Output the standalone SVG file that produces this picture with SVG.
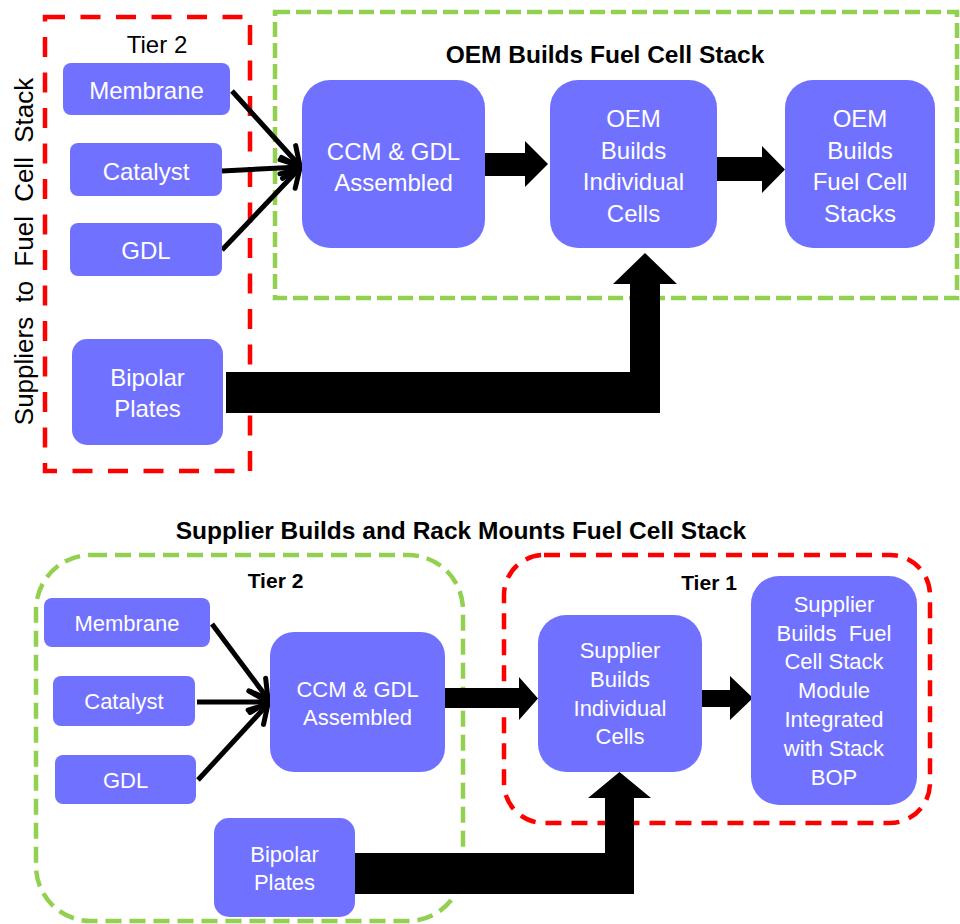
<svg xmlns="http://www.w3.org/2000/svg" width="960" height="924" viewBox="0 0 960 924">
  <defs>
    <style>
      .box { fill: #7171FF; }
      .lbl { font-family: "Liberation Sans", Arial, sans-serif; fill: #FFFFFF; text-anchor: middle; }
      .big { font-size: 24px; }
      .sm { font-size: 22px; }
      .title { font-family: "Liberation Sans", Arial, sans-serif; font-weight: bold; font-size: 24.5px; fill: #000000; text-anchor: middle; }
      .tier { font-family: "Liberation Sans", Arial, sans-serif; fill: #000000; text-anchor: middle; }
      .red { fill: none; stroke: #FF0000; stroke-width: 4.5; }
      .green { fill: none; stroke: #92D050; stroke-width: 4.5; }
      .thin { fill: none; stroke: #000000; stroke-width: 5; marker-end: url(#open); }
      .block { fill: #000000; }
    </style>
    <marker id="open" markerUnits="userSpaceOnUse" markerWidth="26" markerHeight="26" refX="21" refY="13" orient="auto" overflow="visible">
      <path d="M3,2.5 L21,13 L3,23.5" fill="none" stroke="#000000" stroke-width="5" stroke-linecap="round" stroke-linejoin="miter"/>
    </marker>
  </defs>

  <!-- Upper scenario: OEM builds the stack -->
  <g id="oem-frame">
    <rect class="green" x="275" y="12" width="682" height="286" stroke-dasharray="15 6"/>
    <text class="title" x="605" y="63">OEM Builds Fuel Cell Stack</text>
  </g>
  <g id="suppliers-frame">
    <rect class="red" x="45" y="17" width="205" height="454" stroke-dasharray="20 15.5"/>
    <text class="tier" x="157" y="53" font-size="24">Tier 2</text>
    <text class="tier" transform="translate(33,251.5) rotate(-90)" x="0" y="0" font-size="26" word-spacing="7">Suppliers to Fuel Cell Stack</text>
  </g>

  <g id="connectors-top">
    <path class="thin" d="M232,91 L300,166"/>
    <path class="thin" d="M222,171 L300,167"/>
    <path class="thin" d="M222,250 L300,168"/>
    <polygon class="block" points="485,153 525,153 525,141 548,164 525,187 525,176 485,176"/>
    <polygon class="block" points="717,157 762,157 762,146 785,169.5 762,193 762,181 717,181"/>
    <polygon class="block" points="226,372 630,372 630,284 613,284 645,253 677,284 660,284 660,413 226,413"/>
  </g>

  <g id="membrane-top">
    <rect class="box" x="63" y="63" width="167" height="52" rx="8"/>
    <text class="lbl big" x="146.5" y="99">Membrane</text>
  </g>
  <g id="catalyst-top">
    <rect class="box" x="70" y="143" width="152" height="53" rx="8"/>
    <text class="lbl big" x="146" y="180">Catalyst</text>
  </g>
  <g id="gdl-top">
    <rect class="box" x="70" y="223" width="152" height="53" rx="8"/>
    <text class="lbl big" x="146" y="259">GDL</text>
  </g>
  <g id="bipolar-top">
    <rect class="box" x="72" y="339" width="151" height="106" rx="15"/>
    <text class="lbl big" x="147.5" y="386">Bipolar</text>
    <text class="lbl big" x="147.5" y="417">Plates</text>
  </g>
  <g id="ccm-top">
    <rect class="box" x="302" y="80" width="183" height="168" rx="28"/>
    <text class="lbl big" x="393.5" y="160">CCM &amp; GDL</text>
    <text class="lbl big" x="393.5" y="191">Assembled</text>
  </g>
  <g id="cells-top">
    <rect class="box" x="550" y="80" width="167" height="168" rx="28"/>
    <text class="lbl big" x="633.5" y="127">OEM</text>
    <text class="lbl big" x="633.5" y="158.5">Builds</text>
    <text class="lbl big" x="633.5" y="190">Individual</text>
    <text class="lbl big" x="633.5" y="222">Cells</text>
  </g>
  <g id="stacks-top">
    <rect class="box" x="785" y="80" width="150" height="168" rx="28"/>
    <text class="lbl big" x="860" y="127">OEM</text>
    <text class="lbl big" x="860" y="158.5">Builds</text>
    <text class="lbl big" x="860" y="190">Fuel Cell</text>
    <text class="lbl big" x="860" y="222">Stacks</text>
  </g>

  <!-- Lower scenario: supplier builds and rack mounts the stack -->
  <text class="title" x="461" y="539">Supplier Builds and Rack Mounts Fuel Cell Stack</text>
  <g id="tier2-frame">
    <rect class="green" x="36" y="555" width="427" height="366" rx="55" stroke-dasharray="16 8"/>
    <text class="tier" x="275.5" y="588" font-size="21" font-weight="bold">Tier 2</text>
  </g>
  <g id="tier1-frame">
    <rect class="red" x="504" y="555" width="426" height="268" rx="40" stroke-dasharray="16 10"/>
    <text class="tier" x="709" y="590" font-size="21" font-weight="bold">Tier 1</text>
  </g>

  <g id="connectors-bottom">
    <path class="thin" d="M212,624 L268,699"/>
    <path class="thin" d="M197,702 L268,702"/>
    <path class="thin" d="M198,780 L268,704"/>
    <polygon class="block" points="445,688 519,688 519,677 538,698.5 519,720 519,708 445,708"/>
    <polygon class="block" points="702,690 730,690 730,676 753,698 730,720 730,707 702,707"/>
    <polygon class="block" points="355,853 605,853 605,798 588,798 619.5,772 651,798 634,798 634,894 355,894"/>
  </g>

  <g id="membrane-bottom">
    <rect class="box" x="44" y="598" width="166" height="49" rx="8"/>
    <text class="lbl sm" x="127" y="631">Membrane</text>
  </g>
  <g id="catalyst-bottom">
    <rect class="box" x="53" y="676" width="142" height="50" rx="8"/>
    <text class="lbl sm" x="124" y="709">Catalyst</text>
  </g>
  <g id="gdl-bottom">
    <rect class="box" x="55" y="755" width="141" height="49" rx="8"/>
    <text class="lbl sm" x="125.5" y="788">GDL</text>
  </g>
  <g id="bipolar-bottom">
    <rect class="box" x="214" y="818" width="141" height="99" rx="15"/>
    <text class="lbl sm" x="284.5" y="862">Bipolar</text>
    <text class="lbl sm" x="284.5" y="890">Plates</text>
  </g>
  <g id="ccm-bottom">
    <rect class="box" x="270" y="632" width="175" height="140" rx="24"/>
    <text class="lbl sm" x="357.5" y="697">CCM &amp; GDL</text>
    <text class="lbl sm" x="357.5" y="725">Assembled</text>
  </g>
  <g id="cells-bottom">
    <rect class="box" x="538" y="615" width="164" height="157" rx="28"/>
    <text class="lbl sm" x="620" y="658">Supplier</text>
    <text class="lbl sm" x="620" y="687">Builds</text>
    <text class="lbl sm" x="620" y="716">Individual</text>
    <text class="lbl sm" x="620" y="744">Cells</text>
  </g>
  <g id="module-bottom">
    <rect class="box" x="751" y="576" width="166" height="229" rx="28"/>
    <text class="lbl sm" x="834" y="612">Supplier</text>
    <text class="lbl sm" x="834" y="641" xml:space="preserve">Builds  Fuel</text>
    <text class="lbl sm" x="834" y="669">Cell Stack</text>
    <text class="lbl sm" x="834" y="698">Module</text>
    <text class="lbl sm" x="834" y="727">Integrated</text>
    <text class="lbl sm" x="834" y="756">with Stack</text>
    <text class="lbl sm" x="834" y="785">BOP</text>
  </g>
</svg>
